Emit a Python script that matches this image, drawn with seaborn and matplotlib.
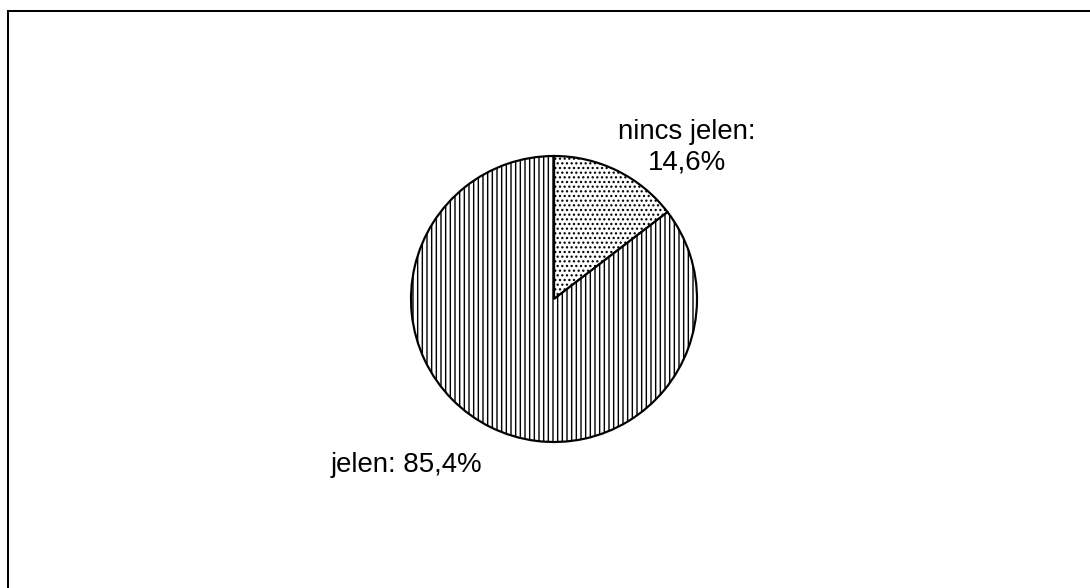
import matplotlib
matplotlib.use("Agg")
import matplotlib.pyplot as plt
from matplotlib import font_manager
from matplotlib.patches import Rectangle
import seaborn as sns

categories = ["nincs jelen", "jelen"]
shares = [14.6, 85.4]
label_texts = ["nincs jelen:\n14,6%", "jelen: 85,4%"]
hatches = ["....", "||||"]

sns.set_theme(style="white")
plt.rcParams["font.family"] = ["Liberation Sans", "DejaVu Sans"]
plt.rcParams["hatch.linewidth"] = 0.9
plt.rcParams["hatch.color"] = "#333333"
label_font = font_manager.FontProperties(family=["Liberation Sans", "DejaVu Sans"], size=17.8)

DPI = 112
W, H = 1090, 588
fig = plt.figure(figsize=(W / DPI, H / DPI), dpi=DPI, facecolor="white")

# outer frame of the chart area
fig.patches.append(Rectangle((8 / W, -0.1), 1.2, (H - 11) / H + 0.1,
                             transform=fig.transFigure, fill=False,
                             edgecolor="black", linewidth=1.3))

cx, cy, R = 554, 299, 143
half = 2 * R
ax = fig.add_axes([(cx - half) / W, (H - cy - half) / H, 2 * half / W, 2 * half / H])

wedges, _ = ax.pie(shares, startangle=90, counterclock=False, radius=1,
                   colors=["white", "white"],
                   wedgeprops=dict(edgecolor="black", linewidth=1.4))
for w, h in zip(wedges, hatches):
    w.set_hatch(h)

ax.set_xlim(-2, 2)
ax.set_ylim(-2, 2)
ax.set_aspect("equal")
ax.axis("off")

label_pos = [(0.93, 1.06), (-1.03, -1.16)]
for txt, (x, y) in zip(label_texts, label_pos):
    ax.text(x, y, txt, ha="center", va="center", fontproperties=label_font,
            color="black", linespacing=1.2)

fig.savefig("out.png", dpi=DPI, facecolor="white")
